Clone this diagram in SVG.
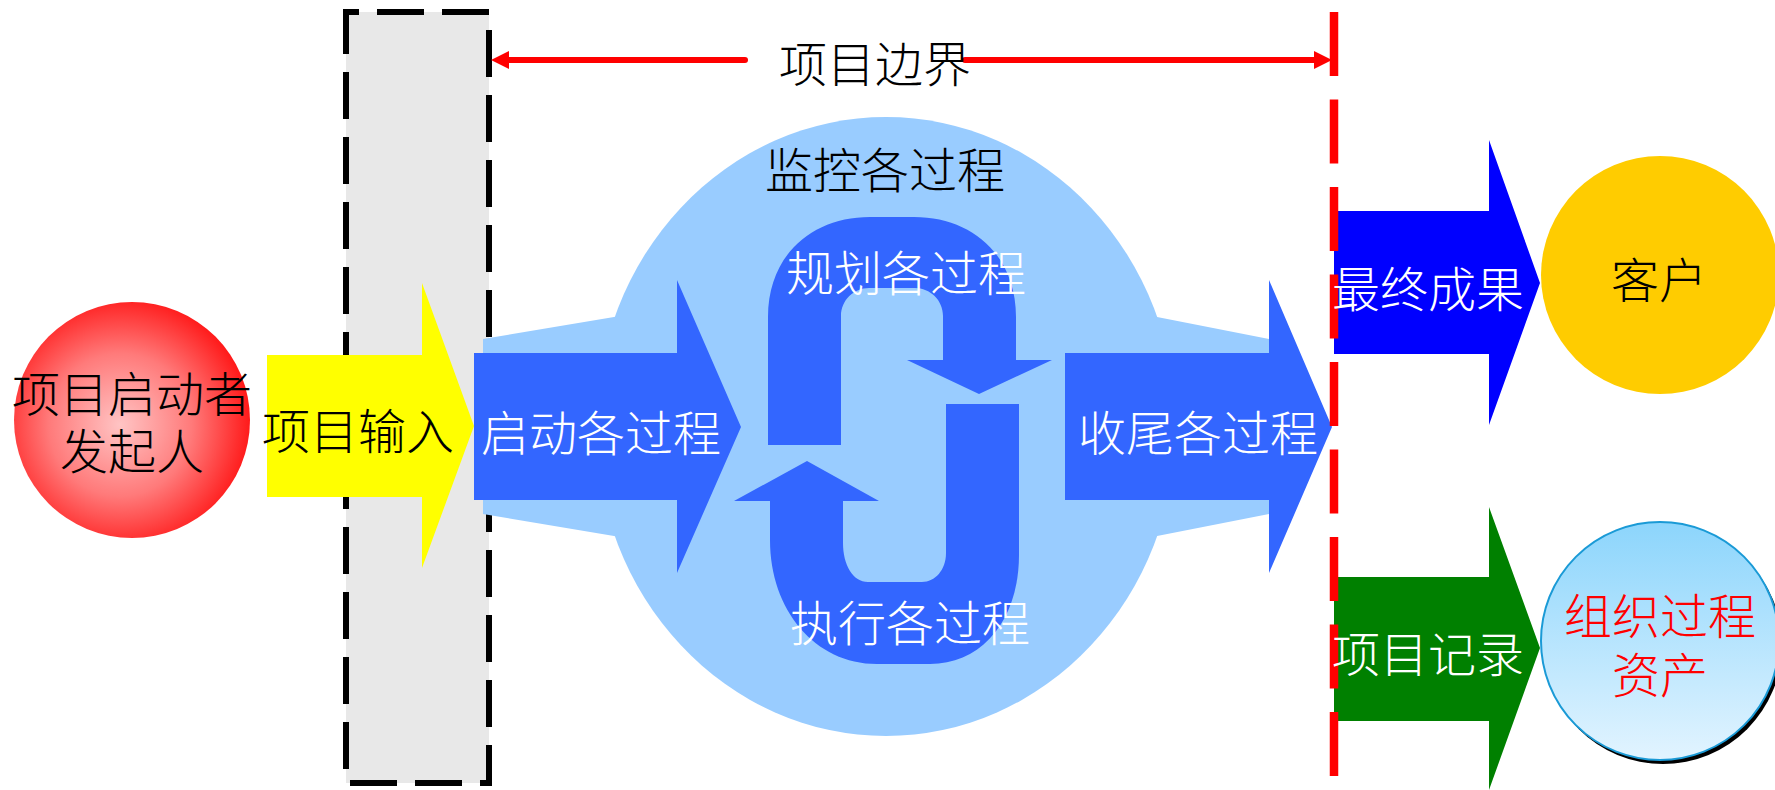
<svg xmlns="http://www.w3.org/2000/svg" width="1775" height="790" viewBox="0 0 1775 790">
<defs>
<style>
.t{font-family:"Noto Sans CJK SC","Noto Sans CJK JP",sans-serif;font-size:48px;text-anchor:middle;font-weight:300}
.w{fill:#ffffff}
.k{fill:#000000}
.r{fill:#ff0000}
.bl{fill:#3366ff}
</style>
<radialGradient id="gRed" cx="0.45" cy="0.52" r="0.55">
<stop offset="0" stop-color="#ffc4c4"/>
<stop offset="0.55" stop-color="#ff7a7a"/>
<stop offset="1" stop-color="#ff1a1a"/>
</radialGradient>
<linearGradient id="gSky" x1="0" y1="0" x2="0" y2="1">
<stop offset="0" stop-color="#8cd5fc"/>
<stop offset="1" stop-color="#e2f4ff"/>
</linearGradient>
<marker id="ah" viewBox="0 0 18 18" refX="6" refY="9" markerWidth="18" markerHeight="18" markerUnits="userSpaceOnUse" orient="auto">
<path d="M0,0 L18,9 L0,18 Z" fill="#ff0000"/>
</marker>
</defs>
<rect width="1775" height="790" fill="#ffffff"/>

<g id="boundary-box">
<rect x="346" y="12" width="143" height="771" fill="#e8e8e8" stroke="#000000" stroke-width="6" stroke-dasharray="47 18" stroke-dashoffset="34"/>
</g>

<g id="monitor">
<ellipse cx="886" cy="426.5" rx="290" ry="309.5" fill="#99ccff"/>
<polygon points="483,339 620,316 1152,316 1269,339 1269,514 1152,537 620,537 483,514" fill="#99ccff"/>
<text class="t k" x="885" y="188">监控各过程</text>
</g>

<g id="input">
<polygon points="267,355 422,355 422,283 474,426 422,568 422,497 267,497" fill="#ffff00"/>
<text class="t k" x="358" y="449">项目输入</text>
</g>

<g id="initiating">
<polygon class="bl" points="474,353 677,353 677,280 741,427 677,573 677,500 474,500"/>
<text class="t w" x="601" y="451">启动各过程</text>
</g>

<g id="closing">
<polygon class="bl" points="1065,353 1269,353 1269,280 1332,427 1269,573 1269,500 1065,500"/>
<text class="t w" x="1198" y="451">收尾各过程</text>
</g>

<g id="planning">
<path class="bl" d="M768,445 L768,317 C768,255 812,217 870,217 L914,217 C972,217 1016,255 1016,317 L1016,360 L1052,360 L979,394 L907,360 L943,360 L943,316 C943,300 930,288 915,288 L869,288 C854,288 841,300 841,316 L841,445 Z"/>
<text class="t w" x="906" y="291">规划各过程</text>
</g>

<g id="executing">
<path class="bl" d="M843,501 L879,501 L807,461 L734,501 L770,501 L770,540 C770,610 815,664 877,664 L930,664 C982,664 1019,620 1019,555 L1019,404 L946,404 L946,553 C946,570 935,582 922,582 L868,582 C853,582 843,565 843,543 Z"/>
<text class="t w" x="910" y="641">执行各过程</text>
</g>

<g id="final-product">
<polygon points="1334,211 1489,211 1489,140 1540,283 1489,425 1489,354 1334,354" fill="#0000ff"/>
</g>

<g id="project-records">
<polygon points="1334,577 1489,577 1489,507 1540,648 1489,790 1489,721 1334,721" fill="#008000"/>
</g>

<g id="connectors">
<line x1="1334" y1="12" x2="1334" y2="777" stroke="#ff0000" stroke-width="8.5" stroke-dasharray="64 23.5"/>
<line x1="745" y1="60" x2="503" y2="60" stroke="#ff0000" stroke-width="6" stroke-linecap="round" marker-end="url(#ah)"/>
<line x1="965" y1="60" x2="1320" y2="60" stroke="#ff0000" stroke-width="6" stroke-linecap="round" marker-end="url(#ah)"/>
</g>

<g id="boundary-label">
<text class="t k" x="875" y="82">项目边界</text>
</g>

<g id="final-product-label">
<text class="t w" x="1428" y="307">最终成果</text>
</g>
<g id="project-records-label">
<text class="t w" x="1428" y="672">项目记录</text>
</g>

<g id="sponsor">
<circle cx="132" cy="420" r="118" fill="url(#gRed)"/>
<text class="t k" x="132" y="412">项目启动者</text>
<text class="t k" x="132" y="469">发起人</text>
</g>

<g id="customer">
<circle cx="1660" cy="275" r="119" fill="#ffcc00"/>
<text class="t k" x="1659" y="298">客户</text>
</g>

<g id="org-assets">
<circle cx="1663" cy="645" r="119" fill="#000000"/>
<circle cx="1660" cy="641" r="119" fill="url(#gSky)" stroke="#1a9ad6" stroke-width="2"/>
<text class="t r" x="1660" y="634">组织过程</text>
<text class="t r" x="1660" y="693">资产</text>
</g>
</svg>
